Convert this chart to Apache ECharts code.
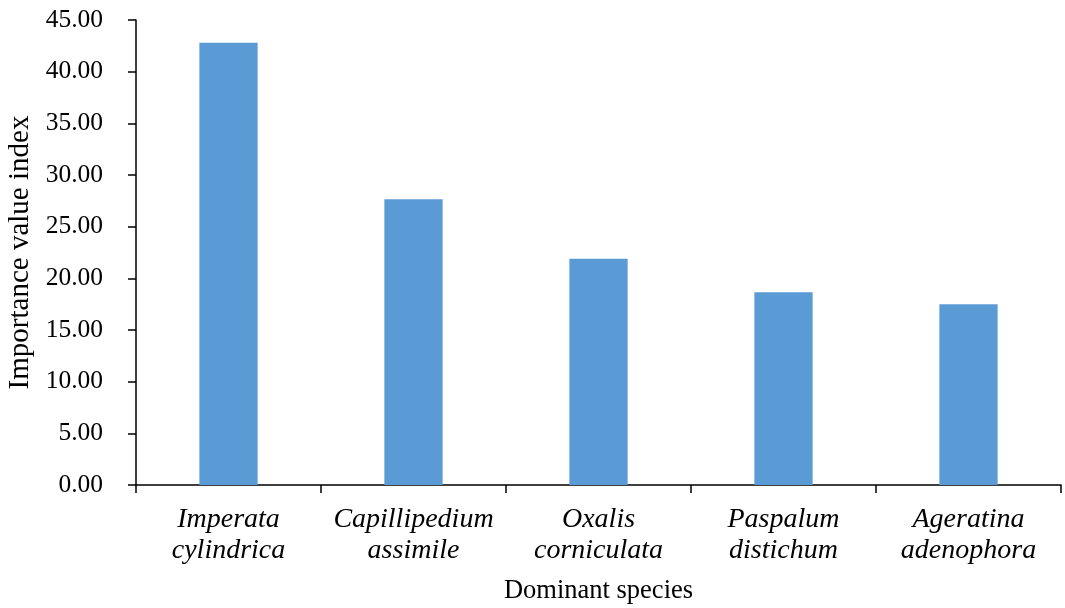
<!DOCTYPE html>
<html>
<head>
<meta charset="utf-8">
<script src="https://cdn.jsdelivr.net/npm/echarts@6/dist/echarts.min.js"></script>
<style>
  html, body { margin: 0; padding: 0; background: #fff; }
  #chart { width: 1065px; height: 608px; }
</style>
</head>
<body>
<div id="chart"></div>
<script>
// Dominant species and their importance value index
const species = [
  'Imperata\ncylindrica',
  'Capillipedium\nassimile',
  'Oxalis\ncorniculata',
  'Paspalum\ndistichum',
  'Ageratina\nadenophora'
];
const importanceValues = [42.8, 27.65, 21.9, 18.65, 17.5];
const yTicks = { min: 0, max: 45, interval: 5 };

const font = '"Liberation Serif", "Times New Roman", serif';
const chart = echarts.init(document.getElementById('chart'));

chart.setOption({
  animation: false,
  backgroundColor: '#ffffff',
  grid: { left: 136, right: 4, top: 20, bottom: 123, containLabel: false, outerBoundsMode: 'none' },
  xAxis: {
    type: 'category',
    data: species,
    boundaryGap: true,
    name: 'Dominant species',
    nameLocation: 'middle',
    nameGap: 93,
    nameTextStyle: { fontFamily: font, fontSize: 26.5, color: '#000' },
    axisLine: { lineStyle: { color: '#000', width: 1.5 } },
    axisTick: { show: true, alignWithLabel: false, length: 8, lineStyle: { color: '#000', width: 1.5 } },
    axisLabel: {
      fontFamily: font, fontSize: 28, fontStyle: 'italic', color: '#000',
      lineHeight: 31, margin: 19, interval: 0
    },
    splitLine: { show: false }
  },
  yAxis: {
    type: 'value',
    min: yTicks.min,
    max: yTicks.max,
    interval: yTicks.interval,
    name: 'Importance value index',
    nameLocation: 'middle',
    nameGap: 100,
    nameRotate: 90,
    nameTextStyle: { fontFamily: font, fontSize: 29, color: '#000' },
    axisLine: { show: true, lineStyle: { color: '#000', width: 1.5 } },
    axisTick: { show: true, length: 8, lineStyle: { color: '#000', width: 1.5 } },
    axisLabel: {
      fontFamily: font, fontSize: 25.5, color: '#000', margin: 33,
      formatter: v => v.toFixed(2)
    },
    splitLine: { show: false }
  },
  series: [{
    type: 'bar',
    data: importanceValues,
    barWidth: '31.5%',
    itemStyle: { color: '#5B9BD5' }
  }]
});
</script>
</body>
</html>
